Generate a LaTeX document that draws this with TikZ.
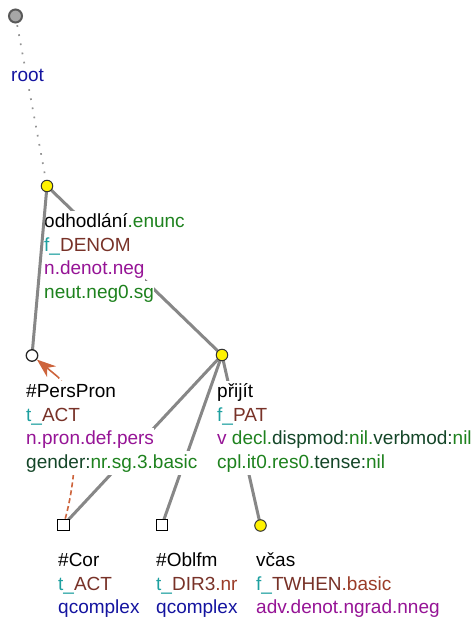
\documentclass[tikz,border=0pt]{standalone}
\usepackage{fontspec}
\setmainfont{Liberation Sans}
\usetikzlibrary{arrows.meta}
\definecolor{cgreen}{RGB}{30,130,30}
\definecolor{cdkgreen}{RGB}{20,70,40}
\definecolor{cteal}{RGB}{30,160,160}
\definecolor{cbrown}{RGB}{120,50,40}
\definecolor{cred}{RGB}{155,60,40}
\definecolor{cpurple}{RGB}{150,20,150}
\definecolor{cblue}{RGB}{20,20,160}
\definecolor{corange}{RGB}{205,100,60}
\definecolor{cedge}{RGB}{135,135,135}
\pgfdeclarelayer{bg}
\pgfdeclarelayer{lab}
\pgfdeclarelayer{mid}
\pgfsetlayers{bg,lab,mid,main}
\begin{document}
\begin{tikzpicture}[x=1pt,y=-1pt,
  edge/.style={draw=cedge, line width=3pt},
  rootedge/.style={draw=cedge!90, line width=1.7pt, dash pattern=on 1.7pt off 7.6pt},
  yellownode/.style={circle, draw=black!80, fill=yellow, line width=1pt, minimum size=11.5pt, inner sep=0pt},
  whitenode/.style={circle, draw=black!85, fill=white, line width=1.3pt, minimum size=11.5pt, inner sep=0pt},
  rootnode/.style={circle, draw=black!65, fill=black!35, line width=2pt, minimum size=13pt, inner sep=0pt},
  sqnode/.style={rectangle, draw=black, fill=white, line width=1.2pt, minimum size=11.5pt, inner sep=0pt},
  lbl/.style={anchor=base west, inner xsep=0pt, inner ysep=1.75pt, fill=white, text height=15pt, text depth=5pt, font=\fontsize{19}{23.5}\selectfont},
  coref/.style={draw=corange, line width=1.6pt, dash pattern=on 5pt off 3pt},
  coreftip/.style={-{Stealth[length=19pt,width=14pt,inset=6pt]}, draw=corange, fill=corange, line width=1.6pt}
]
\useasboundingbox (0,0) rectangle (475,619);

% tree nodes
\node[rootnode] (root) at (15.5,16) {};
\node[yellownode] (odh) at (47,186) {};
\node[whitenode] (pers) at (32,355.5) {};
\node[yellownode] (prij) at (222,355) {};
\node[sqnode] (cor) at (63.5,525) {};
\node[sqnode] (obl) at (162,525) {};
\node[yellownode] (vcas) at (260.5,525.5) {};
\coordinate (tipstart) at (58,377);

% edges
\begin{pgfonlayer}{bg}
\draw[rootedge] (root.center) -- (odh.center);
\draw[edge] (odh.center) -- (prij.center);
\draw[edge] (prij.center) -- (cor.center);
\draw[edge] (prij.center) -- (obl.center);
\draw[edge] (prij.center) -- (vcas.center);
\draw[coref] (cor) .. controls (80,465) and (78,398) .. (tipstart);
\draw[coreftip] (tipstart) -- (pers);
\end{pgfonlayer}
\begin{pgfonlayer}{mid}
\draw[edge] (odh.center) -- (pers.center);
\end{pgfonlayer}

% labels
\begin{pgfonlayer}{lab}
\node[lbl] (lroot) at (11,81) {\textcolor{cblue}{root}};

\node[lbl] (lodh1) at (44,227.5) {odhodlání\textcolor{cgreen}{.enunc}};
\node[lbl] (lodh2) at (44,251) {\textcolor{cteal}{f\_}\textcolor{cbrown}{DENOM}};
\node[lbl] (lodh3) at (44,274.5) {\textcolor{cpurple}{n.denot.neg}};
\node[lbl] (lodh4) at (44,298) {\textcolor{cgreen}{neut.neg0.sg}};

\node[lbl] (lpers1) at (26,397.5) {\#PersPron};
\node[lbl] (lpers2) at (26,421) {\textcolor{cteal}{t\_}\textcolor{cbrown}{ACT}};
\node[lbl] (lpers3) at (26,444.5) {\textcolor{cpurple}{n.pron.def.pers}};
\node[lbl] (lpers4) at (26,468) {\textcolor{cdkgreen}{gender:}\textcolor{cgreen}{nr.sg.3.basic}};

\node[lbl] (lprij1) at (217,397.5) {přijít};
\node[lbl] (lprij2) at (217,421) {\textcolor{cteal}{f\_}\textcolor{cbrown}{PAT}};
\node[lbl] (lprij3) at (217,444.5) {\textcolor{cpurple}{v} \textcolor{cgreen}{decl.}\textcolor{cdkgreen}{dispmod:}\textcolor{cgreen}{nil.}\textcolor{cdkgreen}{verbmod:}\textcolor{cgreen}{nil}};
\node[lbl] (lprij4) at (217,468) {\textcolor{cgreen}{cpl.it0.res0.}\textcolor{cdkgreen}{tense:}\textcolor{cgreen}{nil}};

\node[lbl] (lcor1) at (58,566.5) {\#Cor};
\node[lbl] (lcor2) at (58,590) {\textcolor{cteal}{t\_}\textcolor{cbrown}{ACT}};
\node[lbl] (lcor3) at (58,613.5) {\textcolor{cblue}{qcomplex}};

\node[lbl] (lobl1) at (156,566.5) {\#Oblfm};
\node[lbl] (lobl2) at (156,590) {\textcolor{cteal}{t\_}\textcolor{cbrown}{DIR3}\textcolor{cred}{.nr}};
\node[lbl] (lobl3) at (156,613.5) {\textcolor{cblue}{qcomplex}};

\node[lbl] (lvcas1) at (256,566.5) {včas};
\node[lbl] (lvcas2) at (256,590) {\textcolor{cteal}{f\_}\textcolor{cbrown}{TWHEN}\textcolor{cred}{.basic}};
\node[lbl] (lvcas3) at (256,613.5) {\textcolor{cpurple}{adv.denot.ngrad.nneg}};
\end{pgfonlayer}
\end{tikzpicture}
\end{document}
